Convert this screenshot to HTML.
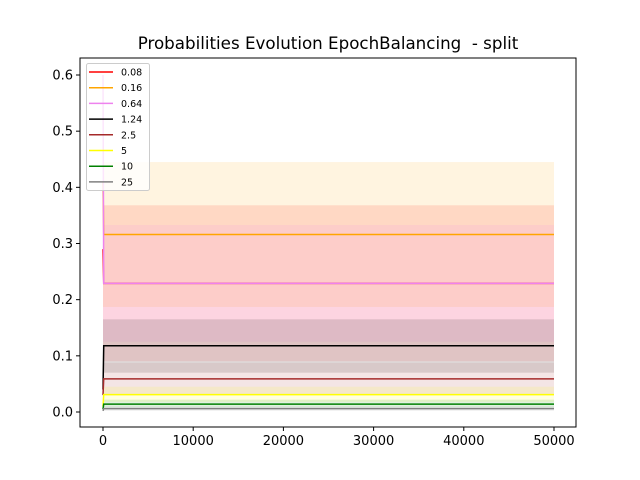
<!DOCTYPE html>
<html><head><meta charset="utf-8"><style>
body{margin:0;background:#fff}
svg{display:block;font-family:"DejaVu Sans","Liberation Sans",sans-serif}
</style></head><body>
<svg id="chart" width="640" height="480"></svg>
<script>
const labels=["0.08","0.16","0.64","1.24","2.5","5","10","25"];
const colors=["red","orange","violet","black","brown","yellow","green","gray"];
const startVals=[0.29,0.41,0.60,0.04,0.03,0.01,0.005,0.002];
const finalVals=[0.229,0.316,0.229,0.118,0.059,0.031,0.014,0.006];
const bandLow=[0.09,0.187,0.125,0.07,0.03,0.018,0.008,0.002];
const bandHigh=[0.368,0.445,0.333,0.165,0.088,0.045,0.022,0.01];
const xSteps=[0,80,50000];
const xTicks=[0,10000,20000,30000,40000,50000];
const yTicks=[0.0,0.1,0.2,0.3,0.4,0.5,0.6];
const L=80,R=576,T=58,B=427;
const X=v=>103+(v/50000)*451;
const Y=v=>412-(v/0.6)*337;
const svg=document.getElementById('chart');
const NS='http://www.w3.org/2000/svg';
function mk(t,a,p){const e=document.createElementNS(NS,t);for(const k in a)e.setAttribute(k,a[k]);(p||svg).appendChild(e);return e;}
let e;
e=mk('text',{x:328,y:49,'text-anchor':'middle','font-size':16.7,style:'white-space:pre'});e.textContent='Probabilities Evolution EpochBalancing  - split';


labels.forEach((l,i)=>{
 const r=mk('rect',{x:X(0),y:Y(bandHigh[i]),width:X(50000)-X(0),height:Y(bandLow[i])-Y(bandHigh[i]),fill:colors[i],'fill-opacity':0.12});
 
 
});
labels.forEach((l,i)=>{
 const vals=[startVals[i],finalVals[i],finalVals[i]];
 const pts=xSteps.map((x,j)=>X(x)+','+Y(vals[j])).join(' ');
 const p=mk('polyline',{points:pts,fill:'none',stroke:colors[i],'stroke-width':1.5});
 
 
});
e=mk('rect',{x:L,y:T,width:R-L,height:B-T,fill:'none',stroke:'#000','stroke-width':1});


xTicks.forEach(t=>{
 mk('line',{x1:X(t),x2:X(t),y1:B,y2:B+4,stroke:'#000'});
 const tx=mk('text',{x:X(t),y:B+18,'text-anchor':'middle','font-size':13});tx.textContent=t;
 
 
});
yTicks.forEach(t=>{
 mk('line',{x1:L-4,x2:L,y1:Y(t),y2:Y(t),stroke:'#000'});
 const tx=mk('text',{x:L-7,y:Y(t)+4.5,'text-anchor':'end','font-size':13});tx.textContent=t.toFixed(1);
 
 
});
const lg=mk('g',{});


mk('rect',{x:86.5,y:63.5,width:63,height:127,rx:2,fill:'#fff','fill-opacity':0.8,stroke:'#ccc'},lg);
labels.forEach((l,i)=>{
 const y=72+i*15.7;
 const g=mk('g',{},lg);
 
 
 mk('line',{x1:89,x2:113,y1:y,y2:y,stroke:colors[i],'stroke-width':1.5},g);
 const t=mk('text',{x:121,y:y+3.5,'font-size':9.5},g);t.textContent=l;
});
</script>
</body></html>
